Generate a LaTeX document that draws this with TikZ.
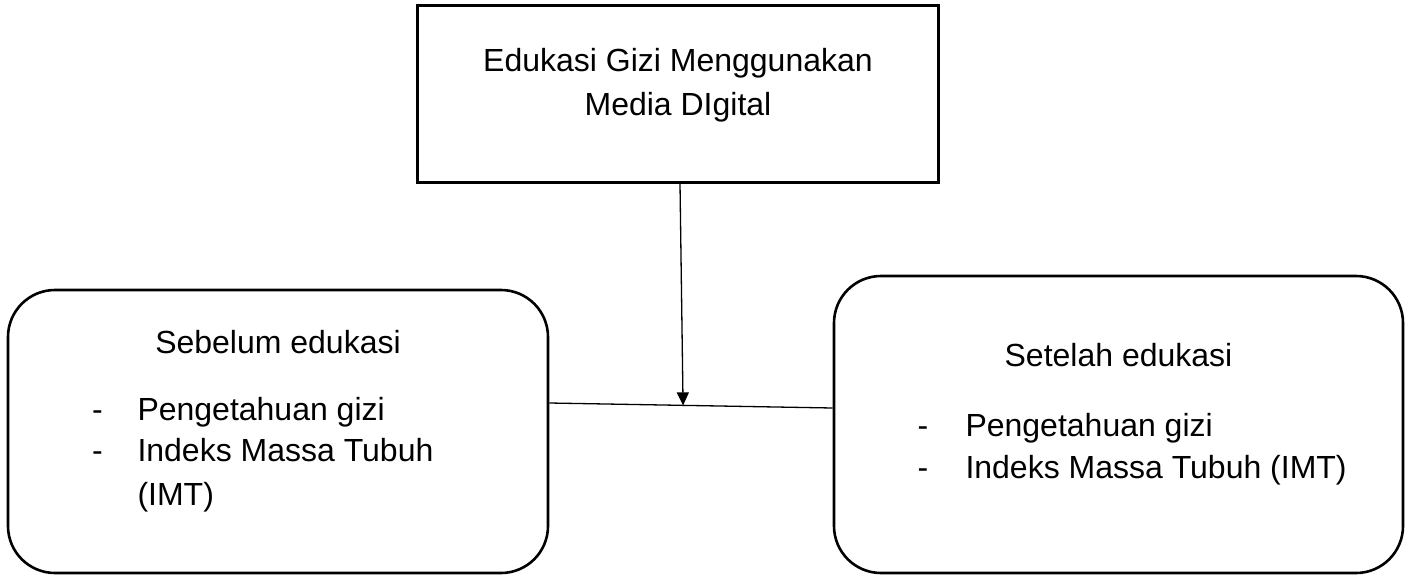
\documentclass[tikz,border=0pt]{standalone}
\usepackage{fontspec}
\setmainfont{Liberation Sans}
\usetikzlibrary{arrows.meta,calc}
\begin{document}
\begin{tikzpicture}[x=1pt,y=-1pt,
  txt/.style={font=\fontsize{32}{40}\selectfont, inner sep=0pt, outer sep=0pt},
  sqbox/.style={draw=black, line width=3pt, minimum width=521pt, minimum height=177pt, inner sep=0pt},
  rbox/.style={draw=black, line width=2.6pt, rounded corners=47pt, inner sep=0pt},
  conn/.style={draw=black, line width=1.3pt},
  arr/.style={conn, -{Triangle[length=13pt,width=12pt]}}]
\useasboundingbox (0,0) rectangle (1408,576);

% boxes
\node[sqbox] (top) at (677.5,93.5) {};
\node[rbox, minimum width=540pt, minimum height=283pt] (left) at (278,431.5) {};
\node[rbox, minimum width=569pt, minimum height=297pt] (right) at (1118.5,424.5) {};

% top text
\node[txt, anchor=base] (t1) at (678,71) {Edukasi Gizi Menggunakan};
\node[txt, anchor=base] (t2) at (678,115) {Media DIgital};

% left text
\node[txt, anchor=base] (lh) at (278,353) {Sebelum edukasi};
\node[txt, anchor=base west] (ld1) at (92,420) {-};
\node[txt, anchor=base west] (li1) at (137.5,420) {Pengetahuan gizi};
\node[txt, anchor=base west] (ld2) at (92,461.5) {-};
\node[txt, anchor=base west] (li2) at (137.5,461.5) {Indeks Massa Tubuh};
\node[txt, anchor=base west] (li3) at (137.5,505) {(IMT)};

% right text
\node[txt, anchor=base] (rh) at (1118.5,366) {Setelah edukasi};
\node[txt, anchor=base west] (rd1) at (917.5,436) {-};
\node[txt, anchor=base west] (ri1) at (965.5,436) {Pengetahuan gizi};
\node[txt, anchor=base west] (rd2) at (917.5,478) {-};
\node[txt, anchor=base west] (ri2) at (965.5,478) {Indeks Massa Tubuh (IMT)};

% connectors
\coordinate (la) at (left.east |- 0,403);
\coordinate (ra) at (right.west |- 0,408);
\draw[conn] (la) -- (ra);
\coordinate (mid) at ($(la)!0.472!(ra)$);
\coordinate (ts) at (top.south -| 680,0);
\draw[arr] (ts) -- (mid);
\end{tikzpicture}
\end{document}
